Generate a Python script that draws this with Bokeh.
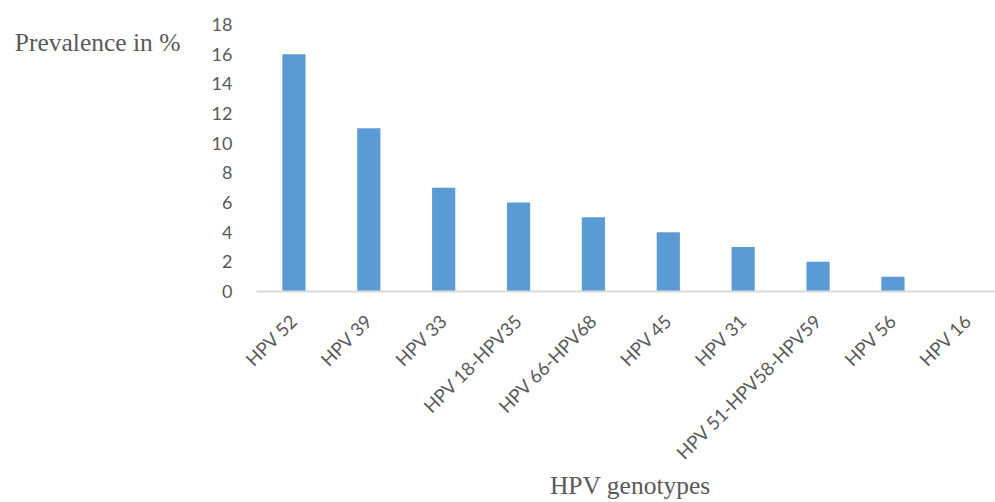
import math
from bokeh.plotting import figure
from bokeh.models import Range1d, FixedTicker, LinearAxis, ColumnDataSource
from bokeh.embed import file_html
from bokeh.resources import INLINE

genotypes = ["HPV 52", "HPV 39", "HPV 33", "HPV 18-HPV35", "HPV 66-HPV68",
             "HPV 45", "HPV 31", "HPV 51-HPV58-HPV59", "HPV 56", "HPV 16"]
prevalence = [16, 11, 7, 6, 5, 4, 3, 2, 1, 0]
y_ticks = [0, 2, 4, 6, 8, 10, 12, 14, 16, 18]
y_title = "Prevalence in %"
x_title = "HPV genotypes"

positions = list(range(len(genotypes)))
src = ColumnDataSource(dict(x=positions, top=prevalence, name=genotypes))

p = figure(width=995, height=502, output_backend="svg", toolbar_location=None,
           x_range=Range1d(-0.5, 9.37), y_range=Range1d(0, 18),
           min_border_left=256, min_border_right=0, min_border_top=24,
           min_border_bottom=211)
p.outline_line_color = None
p.xgrid.visible = False
p.ygrid.visible = False

p.vbar(x="x", top="top", width=0.31, bottom=0, source=src,
       fill_color="#5b9bd5", line_color=None)

def plain(ax):
    ax.axis_line_color = None
    ax.major_tick_line_color = None
    ax.minor_tick_line_color = None

# y axis
p.yaxis.ticker = FixedTicker(ticks=y_ticks)
plain(p.yaxis[0])
p.yaxis.major_label_text_font = "Lato"
p.yaxis.major_label_text_font_size = "18px"
p.yaxis.major_label_text_color = "#595959"
p.yaxis.major_label_standoff = 18

# x axis
p.xaxis.ticker = FixedTicker(ticks=positions)
p.xaxis.major_label_overrides = {i: g for i, g in zip(positions, genotypes)}
p.xaxis.axis_line_color = "#d9d9d9"
p.xaxis.axis_line_width = 2
p.xaxis.major_tick_line_color = None
p.xaxis.minor_tick_line_color = None
p.xaxis.major_label_orientation = math.pi / 4
p.xaxis.major_label_text_font = "Lato"
p.xaxis.major_label_text_font_size = "18.5px"
p.xaxis.major_label_text_color = "#595959"
p.xaxis.major_label_standoff = 20

# y title as a single-tick outer axis (horizontal, near the top)
ytitle_axis = LinearAxis(ticker=FixedTicker(ticks=[16.78]),
                         major_label_overrides={16.78: y_title})
plain(ytitle_axis)
ytitle_axis.major_label_text_font = "Liberation Serif"
ytitle_axis.major_label_text_font_size = "25.5px"
ytitle_axis.major_label_text_color = "#595959"
ytitle_axis.major_label_standoff = 22
p.add_layout(ytitle_axis, "left")

# x title as a single-tick outer axis
xtitle_axis = LinearAxis(ticker=FixedTicker(ticks=[4.493]),
                         major_label_overrides={4.493: x_title})
plain(xtitle_axis)
xtitle_axis.major_label_text_font = "Liberation Serif"
xtitle_axis.major_label_text_font_size = "25.5px"
xtitle_axis.major_label_text_color = "#595959"
xtitle_axis.major_label_standoff = -10
p.add_layout(xtitle_axis, "below")

open("out.html", "w").write(file_html(p, INLINE))
